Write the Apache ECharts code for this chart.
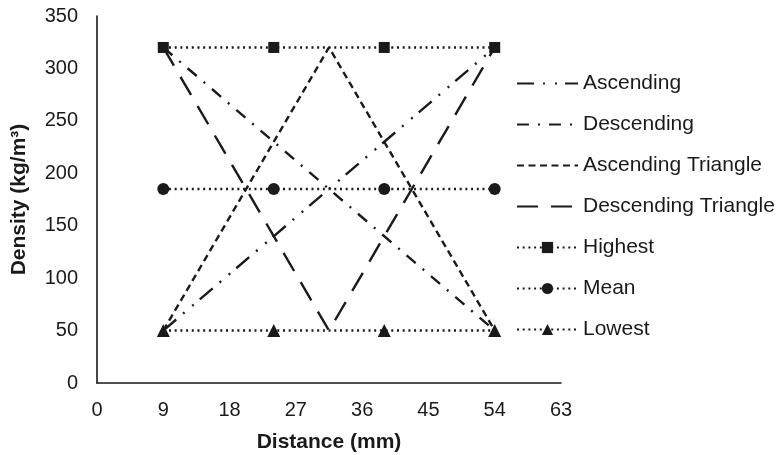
<!DOCTYPE html>
<html><head><meta charset="utf-8">
<script src="https://cdn.jsdelivr.net/npm/echarts@6/dist/echarts.min.js"></script>
<style>html,body{margin:0;padding:0;background:#fff}#c{width:783px;height:455px}</style>
</head><body><div id="c"></div>
<script>
const xTicks = [0, 9, 18, 27, 36, 45, 54, 63];
const ascX = [9, 54];           const ascY = [50, 320];
const descX = [9, 54];          const descY = [320, 50];
const ascTriX = [9, 31.5, 54];  const ascTriY = [50, 320, 50];
const descTriX = [9, 31.5, 54]; const descTriY = [320, 50, 320];
const levelX = [9, 24, 39, 54];
const highestY = [320, 320, 320, 320];
const meanY = [185, 185, 185, 185];
const lowestY = [50, 50, 50, 50];
const names = ['Ascending', 'Descending', 'Ascending Triangle', 'Descending Triangle', 'Highest', 'Mean', 'Lowest'];

const pairs = (xs, ys) => xs.map((x, i) => [x, ys[i]]);
const C = '#1a1a1a';
const font = 'Liberation Sans, Arial, sans-serif';

function lineSeries(name, xs, ys, dash, symbol, size) {
  return {
    name, type: 'line', data: pairs(xs, ys),
    symbol: symbol || 'none', symbolSize: size || 10, showSymbol: !!symbol,
    lineStyle: { color: C, width: 2.4, type: dash },
    itemStyle: { color: C },
    emphasis: { disabled: true }, animation: false, z: symbol ? 3 : 2
  };
}

const chart = echarts.init(document.getElementById('c'));
chart.setOption({
  animation: false,
  textStyle: { fontFamily: font },
  grid: { left: 97, right: 222, top: 16, bottom: 72, containLabel: false, outerBoundsMode: 'none' },
  xAxis: {
    type: 'value', min: 0, max: 63, interval: 9,
    name: 'Distance (mm)', nameLocation: 'middle', nameGap: 49,
    nameTextStyle: { fontSize: 21, fontWeight: 'bold', color: C, fontFamily: font },
    axisLine: { lineStyle: { color: C, width: 1.6 } },
    axisTick: { show: false }, splitLine: { show: false },
    axisLabel: { fontSize: 20, color: C, margin: 17, fontFamily: font }
  },
  yAxis: {
    type: 'value', min: 0, max: 350, interval: 50,
    name: 'Density (kg/m³)', nameLocation: 'middle', nameGap: 67,
    nameTextStyle: { fontSize: 21, fontWeight: 'bold', color: C, fontFamily: font },
    axisLine: { show: true, lineStyle: { color: C, width: 1.6 } },
    axisTick: { show: false }, splitLine: { show: false },
    axisLabel: { fontSize: 20, color: C, margin: 19, fontFamily: font }
  },
  legend: {
    orient: 'vertical', left: 511, top: 68, itemWidth: 61, itemHeight: 14, itemGap: 20,
    textStyle: { fontSize: 21, color: C, fontFamily: font },
    data: names.map((n, i) => i < 4 ? { name: n, itemStyle: { opacity: 0 } } : { name: n })
  },
  series: [
    lineSeries(names[0], ascX, ascY, [17, 9, 2, 10, 2, 8]),
    lineSeries(names[1], descX, descY, [12, 9, 2, 9]),
    lineSeries(names[2], ascTriX, ascTriY, [7, 4.5]),
    lineSeries(names[3], descTriX, descTriY, [21, 13]),
    lineSeries(names[4], levelX, highestY, [2, 3.7], 'rect', 11),
    lineSeries(names[5], levelX, meanY, [2, 3.7], 'circle', 12),
    lineSeries(names[6], levelX, lowestY, [2, 3.7], 'triangle', 13)
  ]
});
</script></body></html>
